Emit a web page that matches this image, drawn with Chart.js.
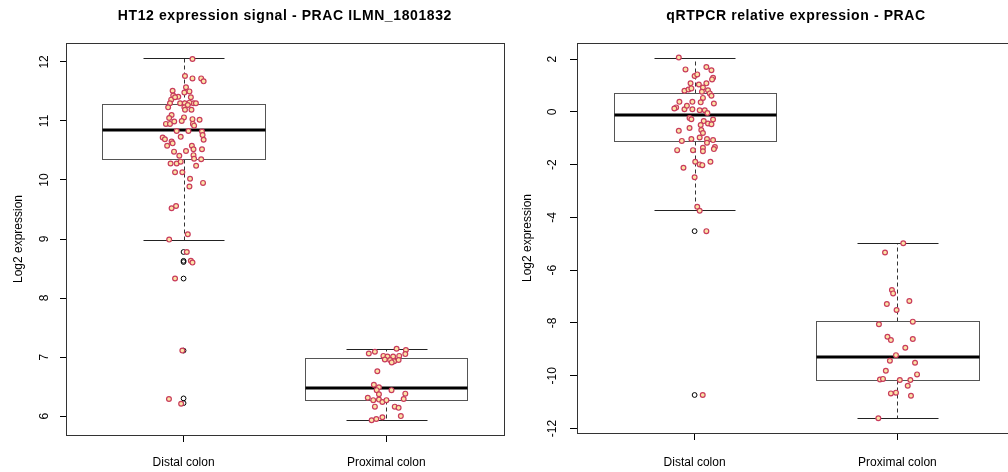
<!DOCTYPE html>
<html>
<head>
<meta charset="utf-8">
<script src="https://cdn.jsdelivr.net/npm/chart.js@4.4.1/dist/chart.umd.min.js"></script>
<style>
html, body { margin:0; padding:0; background:#fff; overflow:hidden; }
#left_wrap { position:absolute; left:0; top:0; }
#right_wrap { position:absolute; left:504px; top:0; }
</style>
</head>
<body>
<div id="left_wrap"><canvas id="ht12_chart" width="509" height="472"></canvas></div>
<div id="right_wrap"><canvas id="qpcr_chart" width="520" height="472"></canvas></div>
<script>
const categories = ['Distal colon', 'Proximal colon'];

// HT12 signal, log2
const ht12Distal = [12.05,11.76,11.72,11.72,11.67,11.51,11.43,11.57,11.50,11.48,
  11.41,11.40,11.36,11.40,11.30,11.30,11.30,11.30,11.31,11.30,
  11.23,11.23,11.27,11.19,11.19,11.10,11.05,11.06,11.03,11.02,
  10.95,10.95,10.99,11.00,10.95,10.92,10.83,10.83,10.82,10.73,
  10.76,10.68,10.72,10.69,10.65,10.58,10.62,10.58,10.52,10.52,
  10.49,10.48,10.42,10.41,10.36,10.35,10.28,10.28,10.31,10.24,
  10.13,10.13,10.02,9.95,9.89,9.52,9.56,9.08,8.99,8.78,
  8.63,8.60,8.33,7.11,6.29,6.21];
const ht12DistalJitter = [0.044,0.007,0.044,0.087,0.099,-0.054,-0.051,0.012,0.029,0.004,
  -0.026,0.036,-0.061,-0.042,-0.017,0.006,0.049,0.061,0.029,-0.067,
  -0.076,0.004,0.021,0.007,0.039,-0.059,-0.071,0.002,0.044,0.079,
  -0.087,-0.067,-0.046,-0.009,0.046,0.052,-0.034,0.024,0.091,-0.014,
  0.094,0.099,-0.103,-0.092,-0.059,-0.081,-0.054,0.041,0.049,0.091,
  0.012,-0.047,0.049,-0.021,0.052,0.087,-0.064,-0.034,-0.014,0.062,
  -0.042,-0.006,0.032,0.096,0.029,-0.059,-0.037,0.021,-0.071,0.016,
  0.036,0.044,-0.042,-0.006,-0.072,-0.012];
const ht12Proximal = [7.14,7.12,7.05,7.06,7.09,7.02,7.01,7.01,7.02,6.96,
  6.95,6.93,6.95,6.91,6.76,6.53,6.49,6.44,6.44,6.37,
  6.38,6.31,6.27,6.28,6.24,6.27,6.29,6.16,6.16,6.14,
  6.00,5.93,5.95,5.98];
const ht12ProximalJitter = [0.051,0.097,0.094,-0.086,-0.056,-0.014,0.006,0.034,0.064,-0.007,
  0.019,0.039,0.061,0.027,-0.044,-0.061,-0.036,0.026,-0.047,-0.036,
  0.094,-0.091,-0.064,-0.036,-0.019,0.001,0.086,-0.056,0.042,0.061,
  0.072,-0.072,-0.049,-0.019];
const ht12Outliers = [8.78, 8.63, 8.61, 8.33, 7.11, 6.30, 6.22];  // distal only
const ht12Lower  = [8.99, 5.93];
const ht12Q1     = [10.35, 6.27];
const ht12Median = [10.84, 6.47];
const ht12Q3     = [11.29, 6.98];
const ht12Upper  = [12.06, 7.13];
const ht12Ticks  = [6, 7, 8, 9, 10, 11, 12];

// qRT-PCR relative expression
const qpcrDistal = [2.06,1.61,1.70,1.58,1.36,1.42,1.29,1.23,1.08,1.04,
  1.08,0.92,0.80,0.85,0.89,0.76,0.82,0.70,0.61,0.53,
  0.38,0.38,0.36,0.32,0.17,0.13,0.10,0.23,0.10,0.06,
  0.06,-0.04,-0.23,-0.28,-0.29,-0.35,-0.44,-0.47,-0.50,-0.72,
  -0.61,-0.69,-0.80,-0.97,-1.10,-1.03,-1.03,-1.07,-1.17,-1.33,
  -1.45,-1.45,-1.36,-1.49,-1.41,-1.89,-1.99,-2.02,-1.89,-2.12,
  -2.48,-3.60,-3.75,-4.52,-10.73];
const qpcrDistalJitter = [-0.078,-0.045,0.058,0.083,0,0.013,0.091,0.086,-0.020,0.021,
  0.058,0.041,-0.050,-0.030,-0.016,0.036,0.066,0.075,0.083,0.041,
  -0.075,-0.011,0.030,0.095,-0.091,-0.100,-0.050,-0.038,-0.011,0.025,
  0.050,0.063,-0.025,-0.016,0.091,0.045,0.066,0.083,0.030,-0.078,
  -0.025,0.033,0.041,0.025,-0.063,-0.016,0.061,0.091,0.061,0.100,
  -0.086,-0.008,0.041,0.041,0.095,0.003,0.025,0.038,0.078,-0.055,
  0,0.013,0.025,0.058,0.040];
const qpcrProximal = [-4.98,-5.33,-6.75,-6.88,-7.17,-7.28,-7.51,-8.05,-7.95,-8.52,
  -8.65,-8.61,-8.94,-9.22,-9.43,-9.51,-9.81,-9.95,-10.14,-10.12,
  -10.16,-10.16,-10.38,-10.67,-10.64,-10.76,-11.61];
const qpcrProximalJitter = [0.029,-0.061,-0.027,-0.021,0.059,-0.052,-0.004,-0.091,0.076,-0.049,
  -0.032,0.076,0.039,-0.007,-0.037,0.087,-0.057,0.097,-0.086,-0.071,
  0.012,0.064,0.051,-0.032,-0.007,0.067,-0.094];
const qpcrOutliers = [-4.52, -10.73];  // distal only
const qpcrLower  = [-3.73, -11.62];
const qpcrQ1     = [-1.11, -10.16];
const qpcrMedian = [-0.12, -9.29];
const qpcrQ3     = [0.72, -7.94];
const qpcrUpper  = [2.06, -4.98];
const qpcrTicks  = [-12, -10, -8, -6, -4, -2, 0, 2];

const FONT = '"Liberation Sans", Arial, Helvetica, sans-serif';

function jittered(vals, jit, cat) {
    return vals.map((v, i) => ({x: cat + jit[i], y: v}));
}

// boxes, whiskers, frame, title, rotated y labels (R style)
const rBoxPlugin = {
    id: 'rbox',
    beforeDatasetsDraw(chart, args, o) {
        const ctx = chart.ctx, x = chart.scales.x, y = chart.scales.y;
        const px = v => Math.round(x.getPixelForValue(v)) + 0.5;
        const py = v => Math.round(y.getPixelForValue(v)) + 0.5;
        ctx.save();
        for (let i = 0; i < o.median.length; i++) {
            const c = i + 1;
            // dashed whiskers
            ctx.strokeStyle = '#333';
            ctx.lineWidth = 1;
            ctx.setLineDash([4, 3]);
            ctx.beginPath();
            ctx.moveTo(px(c), py(o.q3[i])); ctx.lineTo(px(c), py(o.upper[i]));
            ctx.moveTo(px(c), py(o.q1[i])); ctx.lineTo(px(c), py(o.lower[i]));
            ctx.stroke();
            ctx.setLineDash([]);
            // caps
            ctx.strokeStyle = '#222';
            ctx.beginPath();
            ctx.moveTo(px(c - 0.2), py(o.upper[i])); ctx.lineTo(px(c + 0.2), py(o.upper[i]));
            ctx.moveTo(px(c - 0.2), py(o.lower[i])); ctx.lineTo(px(c + 0.2), py(o.lower[i]));
            ctx.stroke();
            // box
            ctx.strokeStyle = '#555';
            ctx.strokeRect(px(c - 0.4), py(o.q3[i]), px(c + 0.4) - px(c - 0.4), py(o.q1[i]) - py(o.q3[i]));
            // median
            ctx.strokeStyle = '#000';
            ctx.lineWidth = 3;
            ctx.beginPath();
            const ym = Math.round(y.getPixelForValue(o.median[i]));
            ctx.moveTo(px(c - 0.4), ym); ctx.lineTo(px(c + 0.4), ym);
            ctx.stroke();
        }
        ctx.restore();
    },
    afterDraw(chart, args, o) {
        const ctx = chart.ctx, a = chart.chartArea, y = chart.scales.y;
        ctx.save();
        ctx.strokeStyle = '#333';
        ctx.lineWidth = 1;
        ctx.strokeRect(Math.round(a.left) + 0.5, Math.round(a.top) + 0.5,
            Math.round(a.right - a.left), Math.round(a.bottom - a.top));
        ctx.fillStyle = '#000';
        ctx.font = 'bold 14px ' + FONT;
        ctx.letterSpacing = '0.6px';
        ctx.textAlign = 'center';
        ctx.textBaseline = 'middle';
        ctx.fillText(o.title, (a.left + a.right) / 2, 16);
        ctx.letterSpacing = '0px';
        ctx.font = '12px ' + FONT;
        y.ticks.forEach(t => {
            ctx.save();
            ctx.translate(a.left - o.labelOffset, y.getPixelForValue(t.value));
            ctx.rotate(-Math.PI / 2);
            ctx.fillText(String(t.value), 0, 0);
            ctx.restore();
        });
        ctx.restore();
    }
};

function makeChart(canvasId, s) {
    return new Chart(document.getElementById(canvasId), {
        type: 'scatter',
        data: {
            datasets: [
                {
                    label: 'samples',
                    data: s.points,
                    pointRadius: 2.4,
                    pointBorderWidth: 1.2,
                    pointBackgroundColor: '#FCE3A6',
                    pointBorderColor: '#C93C5C'
                },
                {
                    label: 'outliers',
                    data: s.outliers,
                    pointRadius: 2.4,
                    pointBorderWidth: 1,
                    pointBackgroundColor: 'rgba(0,0,0,0)',
                    pointBorderColor: '#000'
                }
            ]
        },
        options: {
            responsive: false,
            animation: false,
            layout: { padding: { top: 43, right: s.padRight, left: 0, bottom: 0 } },
            plugins: {
                legend: { display: false },
                tooltip: { enabled: false },
                rbox: s.box
            },
            scales: {
                x: {
                    type: 'linear',
                    min: 0.42, max: 2.58,
                    afterBuildTicks: sc => { sc.ticks = [1, 2].map(v => ({value: v})); },
                    afterFit: sc => { sc.height = s.xHeight; },
                    border: { display: false },
                    grid: { drawOnChartArea: false, tickLength: 7, color: '#000' },
                    ticks: {
                        callback: v => categories[v - 1],
                        color: '#000', padding: s.xPad, maxRotation: 0, autoSkip: false,
                        font: { family: FONT, size: 12 }
                    }
                },
                y: {
                    min: s.yMin, max: s.yMax,
                    afterBuildTicks: sc => { sc.ticks = s.yTicks.map(v => ({value: v})); },
                    afterFit: sc => { sc.width = s.yWidth; },
                    border: { display: false },
                    grid: { drawOnChartArea: false, tickLength: s.tickLen, color: '#000' },
                    ticks: { display: false },
                    title: {
                        display: true, text: 'Log2 expression', color: '#000',
                        font: { family: FONT, size: 12 },
                        padding: { top: s.titlePad, bottom: 0 }
                    }
                }
            }
        },
        plugins: [rBoxPlugin]
    });
}

makeChart('ht12_chart', {
    points: jittered(ht12Distal, ht12DistalJitter, 1).concat(jittered(ht12Proximal, ht12ProximalJitter, 2)),
    outliers: ht12Outliers.map(v => ({x: 1, y: v})),
    yMin: 5.68, yMax: 12.32, yTicks: ht12Ticks,
    yWidth: 66, xHeight: 37, padRight: 2, tickLen: 6, titlePad: 11, xPad: 13,
    box: { title: 'HT12 expression signal - PRAC ILMN_1801832', labelOffset: 21,
           lower: ht12Lower, q1: ht12Q1, median: ht12Median, q3: ht12Q3, upper: ht12Upper }
});

makeChart('qpcr_chart', {
    points: jittered(qpcrDistal, qpcrDistalJitter, 1).concat(jittered(qpcrProximal, qpcrProximalJitter, 2)),
    outliers: qpcrOutliers.map(v => ({x: 1, y: v})),
    yMin: -12.17, yMax: 2.61, yTicks: qpcrTicks,
    yWidth: 73, xHeight: 39, padRight: 9, tickLen: 7, titlePad: 16, xPad: 15,
    box: { title: 'qRTPCR relative expression - PRAC', labelOffset: 24,
           lower: qpcrLower, q1: qpcrQ1, median: qpcrMedian, q3: qpcrQ3, upper: qpcrUpper }
});
</script>
</body>
</html>
